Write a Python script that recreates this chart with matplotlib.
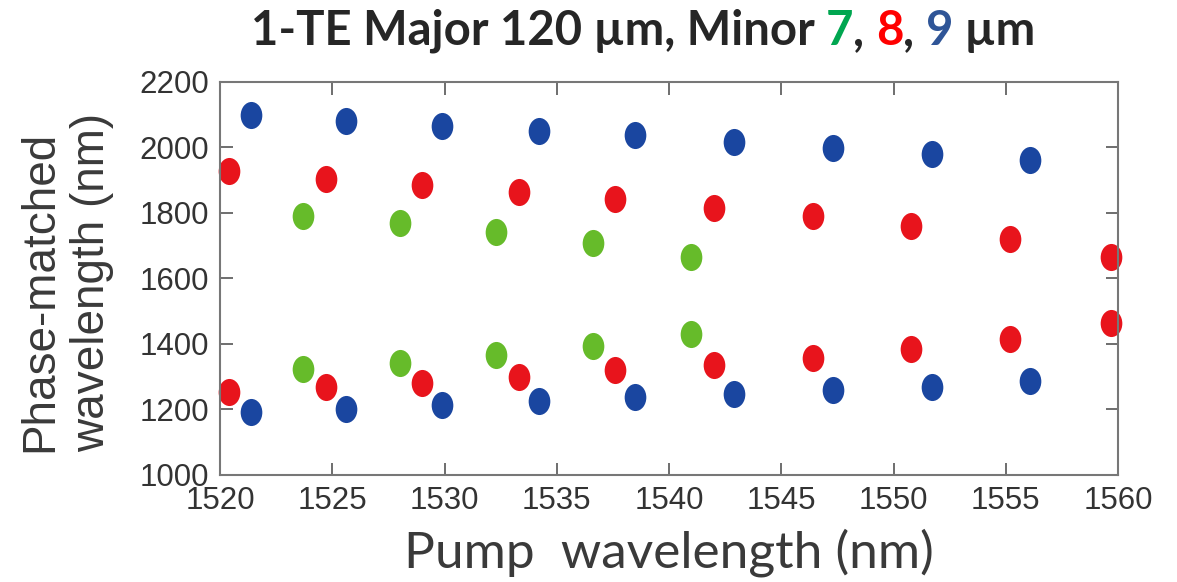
import matplotlib
matplotlib.use('Agg')
import matplotlib.pyplot as plt
from matplotlib.path import Path
from matplotlib.transforms import Affine2D

# pump wavelength (nm) for each minor-axis set
pump_7 = [1523.7, 1528.0, 1532.3, 1536.6, 1541.0]
pump_8 = [1520.4, 1524.7, 1529.0, 1533.3, 1537.6, 1542.0, 1546.4, 1550.8, 1555.2, 1559.7]
pump_9 = [1521.4, 1525.6, 1529.9, 1534.2, 1538.5, 1542.9, 1547.3, 1551.7, 1556.1]

# phase-matched wavelengths (nm): upper (idler) and lower (signal) branches
upper_7 = [1792, 1770, 1743, 1708, 1665]
lower_7 = [1325, 1343, 1365, 1393, 1431]
upper_8 = [1927, 1904, 1886, 1865, 1843, 1815, 1792, 1759, 1720, 1665]
lower_8 = [1254, 1269, 1281, 1298, 1320, 1337, 1358, 1386, 1414, 1464]
upper_9 = [2098, 2080, 2065, 2049, 2037, 2018, 1997, 1980, 1963]
lower_9 = [1193, 1203, 1215, 1226, 1237, 1247, 1259, 1269, 1287]

xticks = [1520, 1525, 1530, 1535, 1540, 1545, 1550, 1555, 1560]
yticks = [1000, 1200, 1400, 1600, 1800, 2000, 2200]

c7, c8, c9 = '#66bb2a', '#e8141c', '#1a46a0'

# slightly tall ellipse marker, like the original
ellipse = Path.unit_circle().transformed(Affine2D().scale(0.8, 1.0))

fig = plt.figure(figsize=(11.77, 5.82), dpi=100)
ax = fig.add_axes([220 / 1177, 1 - 475 / 582, 898 / 1177, 393 / 582])

for px, up, lo, col in [(pump_7, upper_7, lower_7, c7),
                        (pump_8, upper_8, lower_8, c8),
                        (pump_9, upper_9, lower_9, c9)]:
    ax.plot(px, up, ls='none', marker=ellipse, ms=19.5, color=col, mec='none', clip_on=False)
    ax.plot(px, lo, ls='none', marker=ellipse, ms=19.5, color=col, mec='none', clip_on=False)

ax.set_xlim(1520, 1560)
ax.set_ylim(1000, 2200)
ax.set_xticks(xticks)
ax.set_yticks(yticks)
ax.tick_params(direction='in', length=9, width=1.2, color='#555555',
               top=True, right=True, labelsize=22.5, labelcolor='#333333', pad=8)
for lab in ax.get_xticklabels() + ax.get_yticklabels():
    lab.set_family('Liberation Sans')
for sp in ax.spines.values():
    sp.set_color('#777777')
    sp.set_linewidth(1.5)

fig.text(66 / 1177, 1 - 282 / 582, 'Phase-matched\nwavelength (nm)', rotation=90,
         ha='center', va='center', multialignment='left', fontsize=33,
         family='Liberation Sans', color='#3a3a3a', linespacing=1.22)
fig.text(669 / 1177, 1 - 553 / 582, 'Pump  wavelength (nm)', ha='center', va='center',
         fontsize=37, family='Lato', color='#3a3a3a')

# multi-coloured title built from pieces
pieces = [('1-TE Major 120 µm, Minor ', '#262626'), ('7', '#00a650'), (', ', '#262626'),
          ('8', '#ff0000'), (', ', '#262626'), ('9', '#2f5597'), (' µm', '#262626')]
renderer = fig.canvas.get_renderer()
texts = []
x = 0
for s, col in pieces:
    t = fig.text(x, 1 - 31 / 582, s, color=col, fontsize=34, family='Lato',
                 weight='bold', ha='left', va='center')
    w = t.get_window_extent(renderer).width
    texts.append((t, w))
    x += w / fig.bbox.width
total = x
start = 643 / 1177 - total / 2
x = start
for t, w in texts:
    t.set_x(x)
    x += w / fig.bbox.width

fig.savefig('out.png', dpi=100)
